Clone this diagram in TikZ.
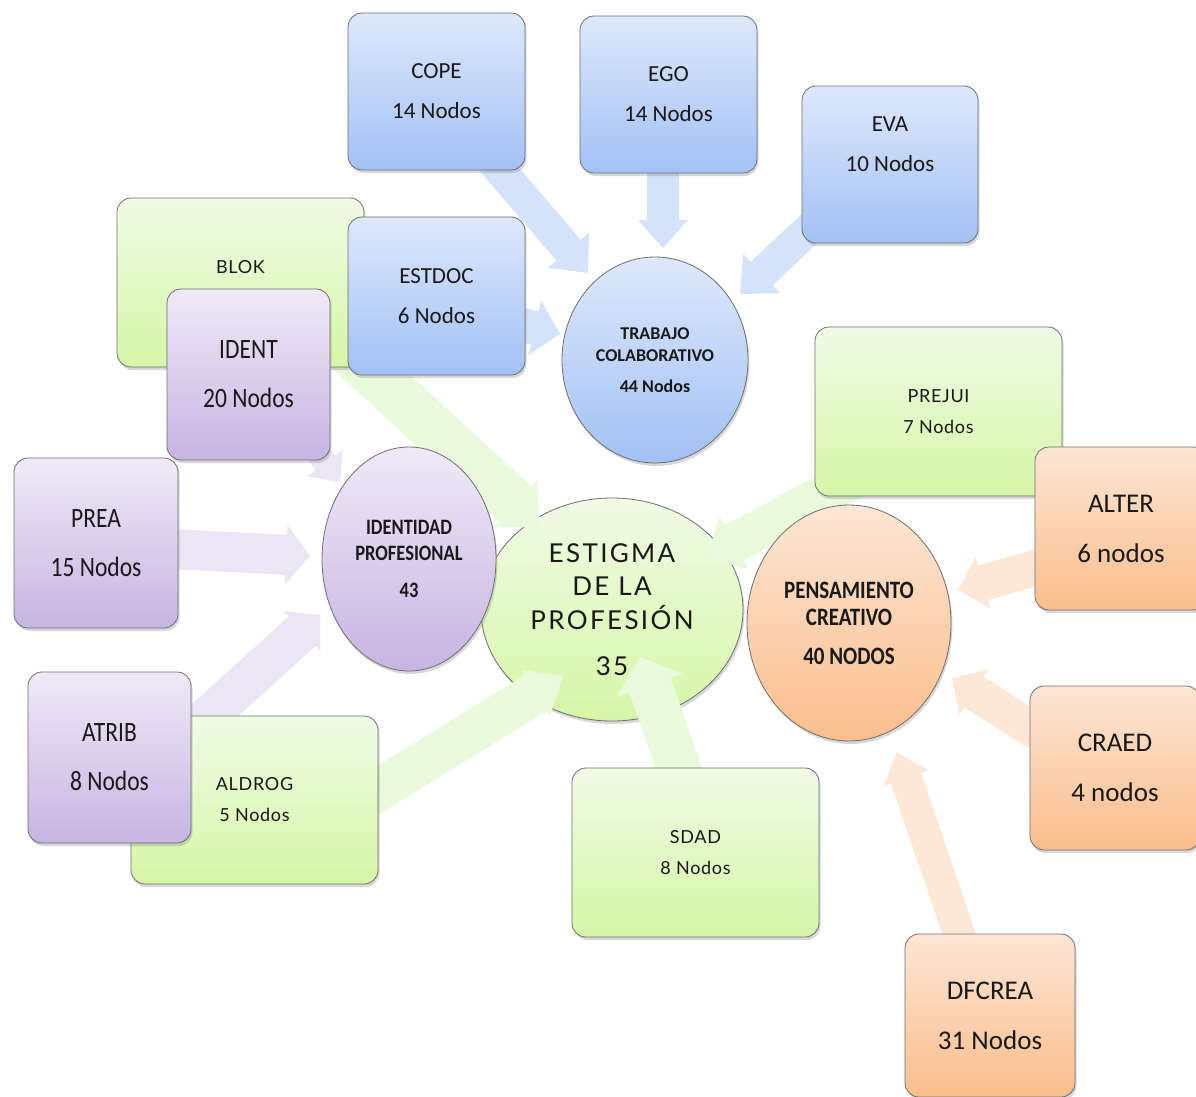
\documentclass[tikz,border=0pt]{standalone}
\usepackage{fontspec}
\setmainfont{Carlito}
\newfontfamily\gillf[LetterSpace=4]{Lato}
\newfontfamily\gillwide[LetterSpace=9]{Lato}
\newfontfamily\carnarrow[FakeStretch=0.84]{Carlito}
\usetikzlibrary{shapes.geometric,calc,shadows}
\definecolor{bluetop}{RGB}{222,232,251}
\definecolor{bluebot}{RGB}{162,193,245}
\definecolor{greentop}{RGB}{240,251,230}
\definecolor{greenbot}{RGB}{214,246,166}
\definecolor{purptop}{RGB}{239,234,247}
\definecolor{purpbot}{RGB}{199,180,226}
\definecolor{orantop}{RGB}{253,230,213}
\definecolor{oranbot}{RGB}{250,190,140}
\definecolor{bluearr}{RGB}{212,226,250}
\definecolor{greenarr}{RGB}{233,249,220}
\definecolor{purparr}{RGB}{235,230,246}
\definecolor{oranarr}{RGB}{253,232,216}
\definecolor{edgegray}{RGB}{110,110,110}
\tikzset{
  cbox/.style={rectangle, rounded corners=14pt, draw=edgegray, line width=0.8pt,
    inner sep=0pt, align=center, text=black!90,
    drop shadow={shadow xshift=1.5pt, shadow yshift=-3pt, opacity=0.3}},
  bluebox/.style={cbox, top color=bluetop, bottom color=bluebot,
    font=\fontsize{23}{40}\selectfont},
  purpbox/.style={cbox, top color=purptop, bottom color=purpbot,
    font=\carnarrow\fontsize{28}{49}\selectfont},
  oranbox/.style={cbox, top color=orantop, bottom color=oranbot,
    font=\fontsize{27}{50}\selectfont},
  greenbox/.style={cbox, top color=greentop, bottom color=greenbot,
    font=\gillf\fontsize{18}{31}\selectfont},
  circ/.style={ellipse, draw=edgegray, line width=0.8pt, inner sep=0pt, align=center,
    text=black!90,
    drop shadow={shadow xshift=1.5pt, shadow yshift=-3pt, opacity=0.3}},
}
\newcommand\blockarr[6]{%
  \coordinate (bah) at ($(#2)!#6!(#1)$);
  \fill[#3] ($(#1)!#4!90:(#2)$) -- ($(bah)!#4!90:(#2)$) -- ($(bah)!#5!90:(#2)$)
    -- (#2) -- ($(bah)!#5!-90:(#2)$) -- ($(bah)!#4!-90:(#2)$)
    -- ($(#1)!#4!-90:(#2)$) -- cycle;
}
\begin{document}
\begin{tikzpicture}[x=1pt,y=-1pt]
\useasboundingbox (0,0) rectangle (1196,1097);
\fill[white] (0,0) rectangle (1196,1097);

% central circle
\node[circ, top color=greentop, bottom color=greenbot, minimum width=262pt, minimum height=223pt,
  font=\gillwide\fontsize{26}{33.5}\selectfont] (estigma) at (612,609.5)
  {ESTIGMA\\DE LA\\PROFESIÓN\\[13pt]35};

% arrow coordinates
\coordinate (s1) at (470,135);  \coordinate (e1) at (588,273);
\coordinate (s2) at (663,150);  \coordinate (e2) at (663,248);
\coordinate (s3) at (845,195);  \coordinate (e3) at (740,294);
\coordinate (s4) at (480,315);  \coordinate (e4) at (560,334);
\coordinate (s5) at (315,320);  \coordinate (e5) at (540,527);
\coordinate (s6) at (300,430);  \coordinate (e6) at (340,482);
\coordinate (s7) at (150,548);  \coordinate (e7) at (310,556);
\coordinate (s8) at (160,760);  \coordinate (e8) at (320,615);
\coordinate (s9) at (330,820);  \coordinate (e9) at (563,676);
\coordinate (s10) at (690,800); \coordinate (e10) at (640,657);
\coordinate (s11) at (870,470); \coordinate (e11) at (706,558);
\coordinate (s12) at (1080,555); \coordinate (e12) at (958,590);
\coordinate (s13) at (1080,760); \coordinate (e13) at (952,678);
\coordinate (s14) at (975,980); \coordinate (e14) at (897,752);

\blockarr{s1}{e1}{bluearr}{16pt}{27pt}{30pt}
\blockarr{s2}{e2}{bluearr}{16pt}{25pt}{28pt}
\blockarr{s3}{e3}{bluearr}{16pt}{27pt}{30pt}
\blockarr{s4}{e4}{bluearr}{17pt}{28pt}{26pt}
\blockarr{s5}{e5}{greenarr}{24pt}{32pt}{34pt}
\blockarr{s6}{e6}{purparr}{12pt}{22pt}{24pt}
\blockarr{s7}{e7}{purparr}{20pt}{30pt}{24pt}
\blockarr{s8}{e8}{purparr}{20pt}{27pt}{24pt}
\blockarr{s9}{e9}{greenarr}{21pt}{27pt}{32pt}
\blockarr{s10}{e10}{greenarr}{22pt}{35pt}{30pt}
\blockarr{s11}{e11}{greenarr}{20pt}{30pt}{32pt}
\blockarr{s12}{e12}{oranarr}{18pt}{27pt}{26pt}
\blockarr{s13}{e13}{oranarr}{18pt}{27pt}{26pt}
\blockarr{s14}{e14}{oranarr}{16pt}{24pt}{28pt}

% other circles
\node[circ, top color=bluetop, bottom color=bluebot, minimum width=186pt, minimum height=206pt,
  font=\bfseries\fontsize{18}{22}\selectfont] (trabajo) at (655,360)
  {TRABAJO\\COLABORATIVO\\[9pt]44 Nodos};
\node[circ, top color=purptop, bottom color=purpbot, minimum width=174pt, minimum height=224pt,
  font=\carnarrow\bfseries\fontsize{22}{26}\selectfont] (identidad) at (409,559)
  {IDENTIDAD\\PROFESIONAL\\[11pt]43};
\node[circ, top color=orantop, bottom color=oranbot, minimum width=204pt, minimum height=236pt,
  font=\carnarrow\bfseries\fontsize{25}{27}\selectfont] (pensamiento) at (849,623)
  {PENSAMIENTO\\CREATIVO\\[12pt]40 NODOS};

% boxes
\node[greenbox, minimum width=247pt, minimum height=169pt] (blok) at (240.5,282.5) {BLOK\\\phantom{0 Nodos}};
\node[bluebox, minimum width=177pt, minimum height=158pt] (estdoc) at (436.5,296) {ESTDOC\\6 Nodos};
\node[purpbox, minimum width=163pt, minimum height=171pt] (ident) at (248.5,374.5) {IDENT\\20 Nodos};
\node[bluebox, minimum width=177pt, minimum height=157pt] (cope) at (436.5,91.5) {COPE\\14 Nodos};
\node[bluebox, minimum width=177pt, minimum height=157pt] (ego) at (668.5,94.5) {EGO\\14 Nodos};
\node[bluebox, minimum width=176pt, minimum height=157pt] (eva) at (890,164.5) {EVA\\10 Nodos\\\mbox{}};
\node[purpbox, minimum width=164pt, minimum height=170pt] (prea) at (96,543) {PREA\\15 Nodos};
\node[greenbox, minimum width=247pt, minimum height=168pt] (aldrog) at (254.5,800) {ALDROG\\5 Nodos};
\node[purpbox, minimum width=163pt, minimum height=171pt] (atrib) at (109.5,757.5) {ATRIB\\8 Nodos};
\node[greenbox, minimum width=247pt, minimum height=169pt] (sdad) at (695.5,852.5) {SDAD\\8 Nodos};
\node[greenbox, minimum width=247pt, minimum height=169pt] (prejui) at (938.5,411.5) {PREJUI\\7 Nodos};
\node[oranbox, minimum width=172pt, minimum height=163pt] (alter) at (1121,528.5) {ALTER\\6 nodos};
\node[oranbox, minimum width=170pt, minimum height=164pt] (craed) at (1115,768) {CRAED\\4 nodos};
\node[oranbox, minimum width=170pt, minimum height=163pt] (dfcrea) at (990,1015.5) {DFCREA\\31 Nodos};
\end{tikzpicture}
\end{document}
